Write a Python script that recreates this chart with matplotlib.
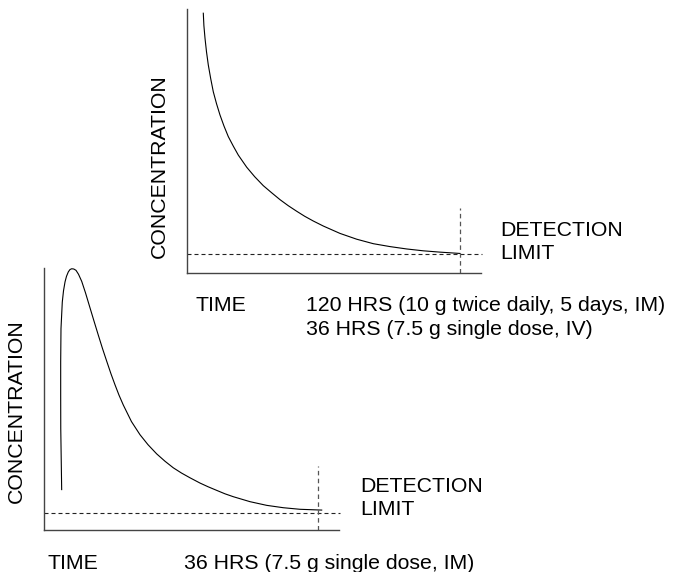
import matplotlib
matplotlib.use('Agg')
import matplotlib.pyplot as plt
import numpy as np

plt.rcParams['font.family'] = ['Liberation Sans', 'DejaVu Sans']

W, H = 673, 572

# upper panel: concentration after 10 g twice daily IM (arbitrary units)
upper_time = [7.29, 7.55, 8.04, 8.69, 9.48, 10.54, 11.68, 13.09, 14.62, 16.38,
              18.27, 20.46, 22.66, 26.35, 29.86, 33.64, 37.32, 40.97, 44.61, 48.30,
              51.81, 55.59, 59.98, 67.31, 74.65, 81.94, 89.27, 96.60, 103.89,
              111.22, 120.0]
upper_conc = [98.4, 93.7, 88.9, 83.8, 78.8, 73.6, 68.6, 64.1, 59.8, 55.6,
              51.6, 48.0, 44.6, 40.0, 36.4, 33.0, 30.3, 27.7, 25.4, 23.3,
              21.4, 19.6, 17.7, 14.9, 12.7, 11.0, 9.9, 9.0, 8.3,
              7.8, 7.3]
upper_limit = 7.2
upper_end = 120
upper_xmax = 129.1

# lower panel: single dose IM
lower_time = [2.32, 2.26, 2.20, 2.19, 2.19, 2.23, 2.40, 2.56, 2.76, 2.95, 3.19,
              3.41, 3.64, 3.91, 4.20, 4.53, 4.95, 5.45, 6.04, 6.56, 7.13, 7.68,
              8.23, 8.79, 9.32, 9.84, 10.41, 11.48, 12.60, 13.65, 14.79, 15.88,
              16.97, 18.05, 19.16, 20.47, 21.52, 22.67, 23.75, 24.84, 27.04,
              29.23, 31.41, 33.60, 36.45]
lower_conc = [15.5, 27.0, 38.7, 51.4, 64.1, 76.8, 86.9, 91.2, 94.6, 96.7, 98.4,
              99.3, 99.6, 99.5, 99.0, 97.5, 94.8, 90.4, 84.7, 79.7, 74.3, 69.2,
              64.4, 59.6, 55.4, 51.5, 47.7, 41.4, 36.4, 32.6, 29.1, 26.3,
              23.8, 21.8, 20.0, 18.0, 16.6, 15.2, 13.9, 12.8, 10.9,
              9.5, 8.6, 8.0, 7.7]
lower_limit = 6.7
lower_end = 36
lower_xmax = 38.72

fs = 15.3
spine_col = '#444444'


def px_axes(fig, left, top, right, bottom):
    return fig.add_axes([left / W, 1 - bottom / H, (right - left) / W, (bottom - top) / H])


def draw_panel(ax, t, c, limit, t_end, xmax):
    ax.plot(t, c, color='black', lw=0.8, solid_joinstyle='round')
    ax.plot([0, xmax * 1.005], [limit, limit], color='#222222', lw=0.8,
            linestyle=(0, (3.6, 2.7)), clip_on=False)
    ax.plot([t_end, t_end], [0, 24.5], color='#555555', lw=0.9,
            linestyle=(0, (3.6, 2.7)), clip_on=False)
    ax.set_xlim(0, xmax)
    ax.set_ylim(0, 100)
    for s in ['top', 'right']:
        ax.spines[s].set_visible(False)
    for s in ['left', 'bottom']:
        ax.spines[s].set_color(spine_col)
        ax.spines[s].set_linewidth(1.0)
    ax.set_xticks([])
    ax.set_yticks([])
    ax.patch.set_alpha(0)


def txt(fig, x, y, s, **kw):
    fig.text(x / W, 1 - y / H, s, fontsize=fs, color='black', **kw)


fig = plt.figure(figsize=(W / 100, H / 100), dpi=100)

ax1 = px_axes(fig, 186.7, 9, 480.7, 272.7)
draw_panel(ax1, upper_time, upper_conc, upper_limit, upper_end, upper_xmax)

ax2 = px_axes(fig, 44, 267.7, 339, 530.3)
draw_panel(ax2, lower_time, lower_conc, lower_limit, lower_end, lower_xmax)

# upper labels
txt(fig, 159, 166, 'CONCENTRATION', rotation=90, ha='center', va='center')
txt(fig, 500, 236, 'DETECTION', va='baseline')
txt(fig, 500, 259, 'LIMIT', va='baseline')
txt(fig, 195, 311, 'TIME', va='baseline')
txt(fig, 306, 311, '120 HRS (10 g twice daily, 5 days, IM)', va='baseline')
txt(fig, 306, 335, '36 HRS (7.5 g single dose, IV)', va='baseline')

# lower labels
txt(fig, 16, 411, 'CONCENTRATION', rotation=90, ha='center', va='center')
txt(fig, 360, 492, 'DETECTION', va='baseline')
txt(fig, 360, 515, 'LIMIT', va='baseline')
txt(fig, 47, 569, 'TIME', va='baseline')
txt(fig, 184, 569, '36 HRS (7.5 g single dose, IM)', va='baseline')

fig.savefig('out.png', dpi=100, facecolor='white')
